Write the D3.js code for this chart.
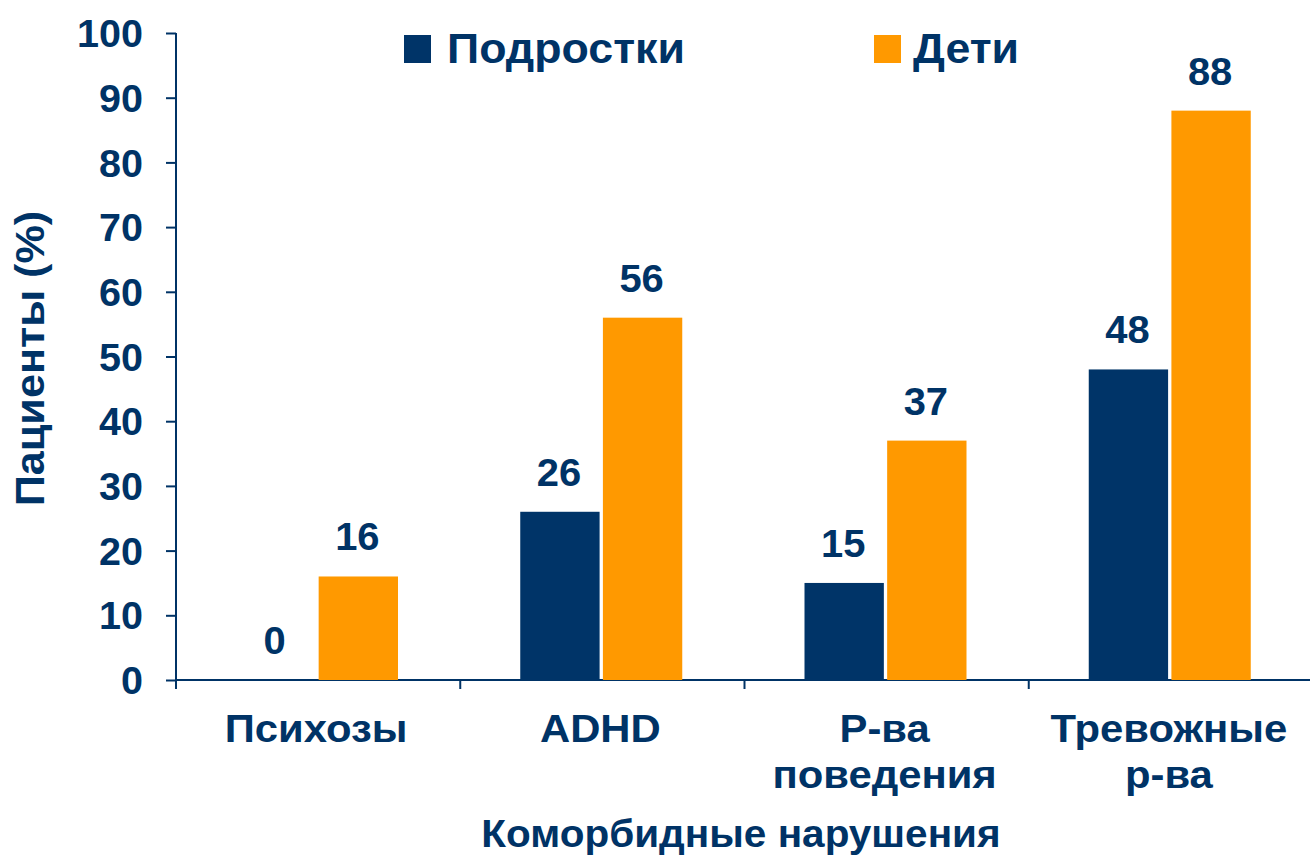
<!DOCTYPE html>
<html>
<head>
    <meta charset="utf-8">
    <title>Коморбидные нарушения</title>
    <script src="https://d3js.org/d3.v7.min.js"></script>
    <style>
        body { margin: 0; background: #fff; }
        text { font-family: "Liberation Sans", Arial, sans-serif; font-weight: bold; fill: #003366; }
    </style>
</head>
<body>
    <div id="chart"></div>

    <script>
        // Data
        const categories = ["Психозы", "ADHD", "Р-ва\nповедения", "Тревожные\nр-ва"];
        const seriesNames = ["Подростки", "Дети"];
        const teens = [0, 26, 15, 48];
        const children = [16, 56, 37, 88];
        const yTicks = [0, 10, 20, 30, 40, 50, 60, 70, 80, 90, 100];

        const colors = { "Подростки": "#003468", "Дети": "#ff9900" };
        const navy = "#003366";

        const W = 1310, H = 856;
        const margin = { top: 33, right: -3, bottom: 176, left: 176 };
        const width = W - margin.left - margin.right,
              height = H - margin.top - margin.bottom;

        const svg = d3.select("#chart")
          .append("svg")
            .attr("width", W)
            .attr("height", H);

        const g = svg.append("g")
            .attr("transform", `translate(${margin.left},${margin.top})`);

        const rows = categories.map((c, i) => ({
          cat: c,
          values: [
            { key: "Подростки", value: teens[i] },
            { key: "Дети", value: children[i] }
          ]
        }));

        const x0 = d3.scaleBand().domain(categories).range([0, width]);
        const x1 = d3.scaleBand().domain(seriesNames)
          .range([60, 222]).paddingInner(0.04);
        const y = d3.scaleLinear().domain([0, 100]).range([height, 0]);

        // Y axis
        const yAxis = g.append("g")
          .call(d3.axisLeft(y).tickValues(yTicks).tickSize(10));
        yAxis.select(".domain").attr("stroke", navy).attr("stroke-width", 2)
          .attr("d", `M0,0V${height}`);
        yAxis.selectAll(".tick line").attr("stroke", navy).attr("stroke-width", 2);
        // labels are a touch wider than Liberation Sans, so stretch them a bit
        yAxis.selectAll(".tick text")
          .attr("x", 0)
          .attr("transform", "translate(-33,0) scale(1.04,1)")
          .style("font-size", "38px").attr("fill", navy)
          .attr("dy", "0.36em");

        // X axis: ticks at category boundaries
        const xAxis = g.append("g")
          .attr("transform", `translate(0,${height})`);
        xAxis.append("line")
          .attr("x1", 0).attr("x2", width)
          .attr("stroke", navy).attr("stroke-width", 2);
        xAxis.selectAll(".bound")
          .data(categories)
          .enter().append("line")
            .attr("x1", d => x0(d)).attr("x2", d => x0(d))
            .attr("y1", 0).attr("y2", 9)
            .attr("stroke", navy).attr("stroke-width", 2);

        const catLabels = xAxis.selectAll(".cat")
          .data(categories)
          .enter().append("text")
            .attr("text-anchor", "middle")
            .style("font-size", "38px")
            .attr("transform", d => `translate(${x0(d) + x0.bandwidth() / 2 - 2},62) scale(1.1,1)`);
        catLabels.selectAll("tspan")
          .data(d => d.split("\n"))
          .enter().append("tspan")
            .attr("x", 0)
            .attr("y", (d, i) => i * 46)
            .text(d => d);

        // Bars
        const groups = g.selectAll(".grp")
          .data(rows)
          .enter().append("g")
            .attr("transform", d => `translate(${x0(d.cat)},0)`);

        groups.selectAll("rect")
          .data(d => d.values)
          .enter().append("rect")
            .attr("x", d => x1(d.key))
            .attr("width", x1.bandwidth())
            .attr("y", d => y(d.value))
            .attr("height", d => height - y(d.value))
            .attr("fill", d => colors[d.key]);

        groups.selectAll(".val")
          .data(d => d.values)
          .enter().append("text")
            .attr("transform", d =>
              `translate(${x1(d.key) + x1.bandwidth() / 2 - 1},${y(d.value) - 26}) scale(1.05,1)`)
            .attr("text-anchor", "middle")
            .style("font-size", "38px")
            .text(d => d.value);

        // Axis titles
        svg.append("text")
          .attr("transform", `translate(44,${margin.top + height / 2 + 2}) rotate(-90) scale(1.08,1)`)
          .attr("text-anchor", "middle")
          .style("font-size", "40px")
          .text("Пациенты (%)");

        svg.append("text")
          .attr("transform", "translate(741,847) scale(1.066,1)")
          .attr("text-anchor", "middle")
          .style("font-size", "38px")
          .text("Коморбидные нарушения");

        // Legend
        const legendX = [404, 874];
        const legend = svg.selectAll(".legend")
          .data(seriesNames)
          .enter().append("g")
            .attr("transform", (d, i) => `translate(${legendX[i]},35)`);
        legend.append("rect")
          .attr("width", 27).attr("height", 28)
          .attr("fill", d => colors[d]);
        legend.append("text")
          .attr("transform", (d, i) => `translate(${i === 0 ? 43 : 39},28) scale(1.04,1)`)
          .style("font-size", "43px")
          .text(d => d);
    </script>
</body>
</html>
